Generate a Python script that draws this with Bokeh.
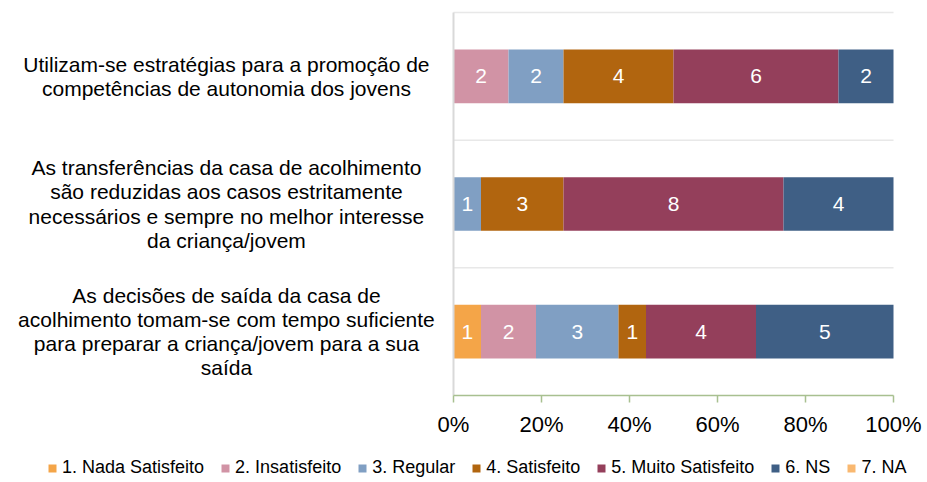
from bokeh.plotting import figure
from bokeh.models import (ColumnDataSource, Range1d, LinearAxis, FixedTicker,
                          NumeralTickFormatter, Legend, LegendItem)
from bokeh.core.properties import value
from bokeh.embed import file_html
from bokeh.resources import INLINE

# ---------------- data ----------------
categories = [
    "Utilizam-se estratégias para a promoção de\ncompetências de autonomia dos jovens",
    "As transferências da casa de acolhimento\nsão reduzidas aos casos estritamente\nnecessários e sempre no melhor interesse\nda criança/jovem",
    "As decisões de saída da casa de\nacolhimento tomam-se com tempo suficiente\npara preparar a criança/jovem para a sua\nsaída",
]
series_names = ["1. Nada Satisfeito", "2. Insatisfeito", "3. Regular", "4. Satisfeito",
                "5. Muito Satisfeito", "6. NS", "7. NA"]
nada_satisfeito = [0, 0, 1]
insatisfeito = [2, 0, 2]
regular = [2, 1, 3]
satisfeito = [4, 3, 1]
muito_satisfeito = [6, 8, 4]
ns = [2, 4, 5]
na = [0, 0, 0]
tick_values = [0, 0.2, 0.4, 0.6, 0.8, 1.0]

series_values = [nada_satisfeito, insatisfeito, regular, satisfeito, muito_satisfeito, ns, na]
colors = ["#F4A548", "#D193A5", "#809FC3", "#B1650F", "#943F5B", "#3F5F85", "#F9B870"]

# ---------------- build sources ----------------
n = len(categories)
ys = [n - i - 0.5 for i in range(n)]
totals = [sum(s[i] for s in series_values) for i in range(n)]
keys = ["s%d" % k for k in range(len(series_values))]
data = {"y": ys}
for k, s in zip(keys, series_values):
    data[k] = [s[i] / totals[i] for i in range(n)]
src = ColumnDataSource(data)

lx, ly, lt = [], [], []
for i in range(n):
    left = 0.0
    for s in series_values:
        w = s[i] / totals[i]
        if s[i] > 0:
            lx.append(left + w / 2)
            ly.append(ys[i])
            lt.append(str(s[i]))
        left += w
lab_src = ColumnDataSource(dict(x=lx, y=ly, t=lt))

# ---------------- figure (frame covers the whole canvas) ----------------
W, H = 927, 482
PX_X = 440.0                 # pixels per 100 %
X0 = 453.0                   # pixel of 0 %
PLOT_TOP, PLOT_BOTTOM = 12.0, 395.0
PX_Y = (PLOT_BOTTOM - PLOT_TOP) / n
x_range = Range1d(-X0 / PX_X, (W - X0) / PX_X)
y_range = Range1d(-(H - PLOT_BOTTOM) / PX_Y, n + PLOT_TOP / PX_Y)

p = figure(width=W, height=H, output_backend="svg", toolbar_location=None,
           x_range=x_range, y_range=y_range,
           x_axis_type=None, y_axis_type=None,
           min_border=0)
p.outline_line_color = None
p.background_fill_color = "white"
p.border_fill_color = "white"

# category separators (horizontal) limited to the plot area
sep_y = list(range(1, n + 1))
p.segment(x0=[0] * len(sep_y), x1=[1] * len(sep_y), y0=sep_y, y1=sep_y,
          line_color="#E8E8E8", line_width=1.5)

renderers = p.hbar_stack(keys, y="y", height=0.42, source=src,
                         fill_color=colors, line_color=None)

# vertical category axis line
p.segment(x0=[0], x1=[0], y0=[0], y1=[n], line_color="#D9D9D9", line_width=2)

p.text(x="x", y="y", text="t", source=lab_src, text_color="white",
       text_font=value("Liberation Sans"), text_font_size="21px",
       text_align="center", text_baseline="middle")

p.text(x=[-0.516] * n, y=ys, text=categories, text_color="#000000",
       text_font=value("Liberation Sans"), text_font_size="21px",
       text_align="center", text_baseline="middle", text_line_height=1.05)

xaxis = LinearAxis(ticker=FixedTicker(ticks=tick_values),
                   formatter=NumeralTickFormatter(format="0%"), bounds=(0, 1),
                   fixed_location=0)
xaxis.axis_line_color = "#A8C090"
xaxis.axis_line_width = 1.5
xaxis.major_tick_line_color = "#A8C090"
xaxis.major_tick_line_width = 1.5
xaxis.major_tick_in = 0
xaxis.major_tick_out = 7
xaxis.minor_tick_line_color = None
xaxis.major_label_text_font = "Liberation Sans"
xaxis.major_label_text_font_size = "22px"
xaxis.major_label_text_color = "#000000"
xaxis.major_label_standoff = 9
p.add_layout(xaxis, "below")

items = [LegendItem(label=name, renderers=[r]) for name, r in zip(series_names, renderers)]
legend = Legend(items=items, orientation="horizontal", location=(47, 4),
                glyph_width=10, glyph_height=10, label_standoff=5, spacing=16,
                padding=0, margin=0, border_line_color=None, background_fill_alpha=0,
                label_text_font="Liberation Sans", label_text_font_size="18px",
                label_text_color="#000000")
p.add_layout(legend)

open("out.html", "w").write(file_html(p, INLINE))
